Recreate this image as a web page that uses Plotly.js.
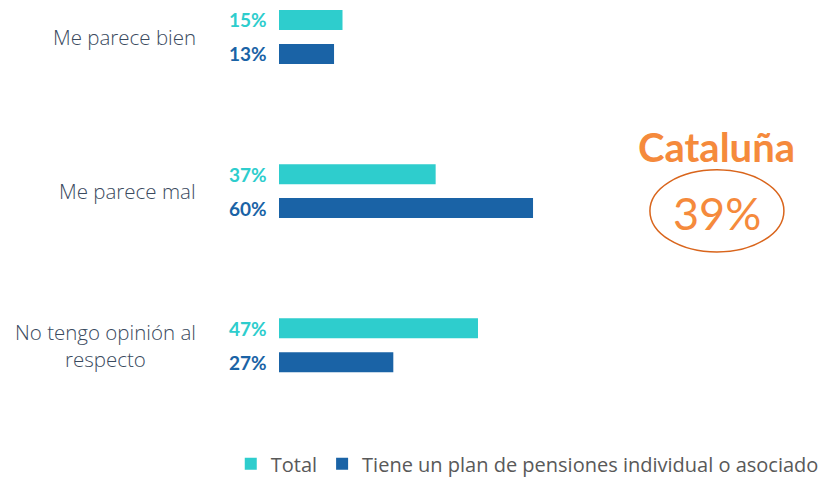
<!DOCTYPE html>
<html><head><meta charset="utf-8">
<script src="https://cdn.plot.ly/plotly-3.0.1.min.js"></script>
<style>html,body{margin:0;padding:0;background:#fff}#chart{width:825px;height:477px}</style>
</head><body><div id="chart"></div>
<script>
var categories = ["Me parece bien", "Me parece mal", "No tengo opinión al respecto"];
var categoryLabels = ["Me parece bien", "Me parece mal", "No tengo opinión al<br>respecto"];
var seriesNames = ["Total", "Tiene un plan de pensiones individual o asociado"];
var totalValues = [15, 37, 47];
var planValues = [13, 60, 27];
var colors = ["#2ECDCD", "#1A63A6"];
var regionName = "Cataluña";
var regionValue = "39%";

var traces = [
  {type:'bar', orientation:'h', name:seriesNames[0], y:categories, x:totalValues, marker:{color:colors[0]}, hoverinfo:'skip'},
  {type:'bar', orientation:'h', name:seriesNames[1], y:categories, x:planValues, marker:{color:colors[1]}, hoverinfo:'skip'}
];

var annotations = [];
categories.forEach(function(c,i){
  annotations.push({xref:'paper', yref:'y', x:-0.152, y:c, xanchor:'right', yanchor:'middle', align:'center',
    text:categoryLabels[i], showarrow:false, font:{family:'Open Sans', weight:300, size:20.5, color:'#3A4A5E'}});
  annotations.push({xref:'x', yref:'y', x:0, y:c, yshift:17, xshift:-10, xanchor:'right', yanchor:'middle',
    text:'<b>'+totalValues[i]+'%</b>', showarrow:false, font:{family:'Lato', size:19, color:colors[0]}});
  annotations.push({xref:'x', yref:'y', x:0, y:c, yshift:-17, xshift:-10, xanchor:'right', yanchor:'middle',
    text:'<b>'+planValues[i]+'%</b>', showarrow:false, font:{family:'Lato', size:19, color:colors[1]}});
});
annotations.push({xref:'paper', yref:'paper', x:0.817, y:0.658, xanchor:'center', yanchor:'middle',
  text:'<b>'+regionName+'</b>', showarrow:false, font:{family:'Lato', size:40, color:'#F58A3C'}});
annotations.push({xref:'paper', yref:'paper', x:0.817, y:0.505, xanchor:'center', yanchor:'middle',
  text:regionValue, showarrow:false, font:{family:'Lato', size:45, color:'#F58A3C'}});

var layout = {
  width:825, height:477,
  margin:{l:279, r:10, t:0, b:47, autoexpand:false},
  paper_bgcolor:'#fff', plot_bgcolor:'#fff',
  barmode:'group', bargap:0.56, bargroupgap:0.41,
  xaxis:{range:[0,126.6], visible:false, fixedrange:true},
  yaxis:{type:'category', range:[2.55,-0.24], showticklabels:false, showgrid:false, zeroline:false, showline:false, ticks:''},
  showlegend:true,
  legend:{orientation:'h', x:-0.09, xanchor:'left', y:-0.033, yanchor:'top', traceorder:'normal',
    font:{family:'Open Sans', size:20, color:'#595959'}, itemwidth:30, tracegroupgap:0},
  annotations:annotations,
  shapes:[{type:'circle', xref:'paper', yref:'paper', x0:0.692, x1:0.942, y0:0.414, y1:0.605,
    line:{color:'#D9651C', width:1.5}}]
};
Plotly.newPlot('chart', traces, layout, {displayModeBar:false, staticPlot:true});
</script></body></html>
